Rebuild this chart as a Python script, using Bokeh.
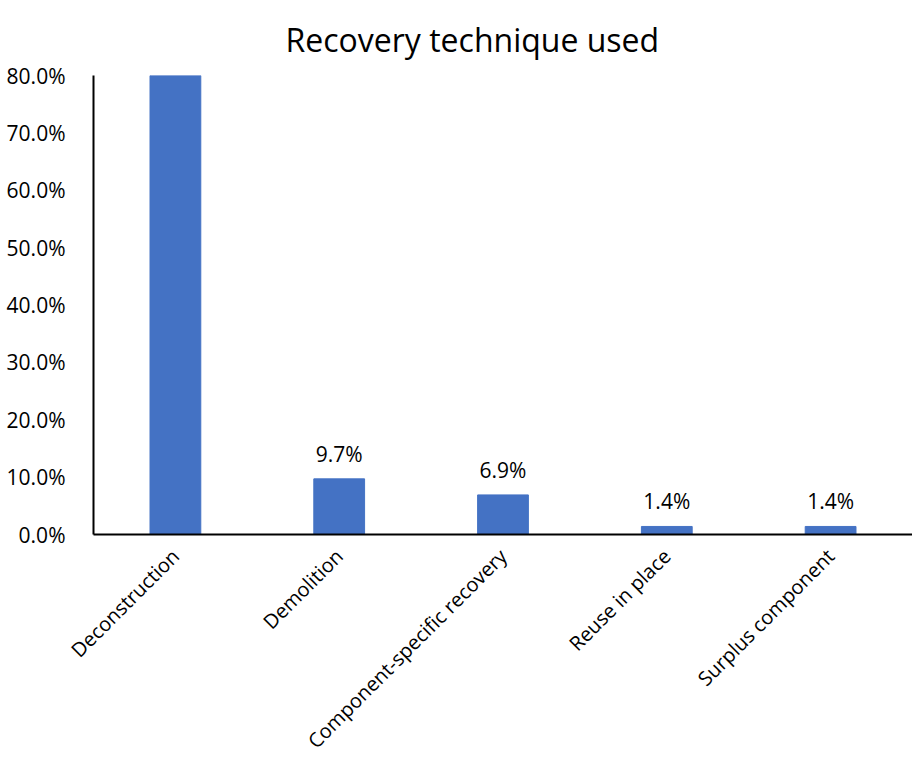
from bokeh.plotting import figure
from bokeh.models import ColumnDataSource, FactorRange, Range1d, FixedTicker, CustomJSTickFormatter
from bokeh.core.properties import value
from bokeh.embed import file_html
from bokeh.resources import INLINE
import math

title_text = "Recovery technique used"
categories = ["Deconstruction", "Demolition", "Component-specific recovery", "Reuse in place", "Surplus component"]
shares = [80.6, 9.7, 6.9, 1.4, 1.4]
labels = ["80.6%", "9.7%", "6.9%", "1.4%", "1.4%"]
y_ticks = [0, 10, 20, 30, 40, 50, 60, 70, 80]

FONT = "Open Sans"

src = ColumnDataSource(data=dict(cat=categories, val=shares, lab=labels))

p = figure(
    x_range=FactorRange(factors=categories, start=0, end=4.92),
    y_range=Range1d(0, 80),
    width=912, height=766,
    output_backend="svg", toolbar_location=None,
    title=title_text,
    min_border_left=93, min_border_top=75, min_border_right=0, min_border_bottom=10,
)
p.title.align = "left"
p.title.offset = 192
p.title.standoff = 30
p.title.text_font = FONT
p.title.text_font_size = "32px"
p.title.text_font_style = "normal"
p.title.text_color = "#000000"

p.vbar(x="cat", top="val", width=0.31, source=src, color="#4472C4")
p.text(x="cat", y="val", text="lab", source=src, y_offset=-25,
       text_align="center", text_baseline="middle",
       text_font=value(FONT), text_font_size="21px", text_color="#000000")

p.outline_line_color = None
p.grid.visible = False

p.yaxis.ticker = FixedTicker(ticks=y_ticks)
p.yaxis.formatter = CustomJSTickFormatter(code="return tick.toFixed(1) + '%';")
p.yaxis.major_tick_line_color = None
p.yaxis.minor_tick_line_color = None
p.yaxis.axis_line_color = "#000000"
p.yaxis.axis_line_width = 2
p.yaxis.major_label_text_font = FONT
p.yaxis.major_label_text_font_size = "21px"
p.yaxis.major_label_text_color = "#000000"
p.yaxis.major_label_standoff = 22

p.xaxis.major_tick_line_color = None
p.xaxis.axis_line_color = "#000000"
p.xaxis.axis_line_width = 2
p.xaxis.major_label_orientation = math.pi / 4
p.xaxis.major_label_text_font = FONT
p.xaxis.major_label_text_font_size = "20px"
p.xaxis.major_label_text_color = "#000000"
p.xaxis.major_label_standoff = 12

open("out.html", "w").write(file_html(p, INLINE))
